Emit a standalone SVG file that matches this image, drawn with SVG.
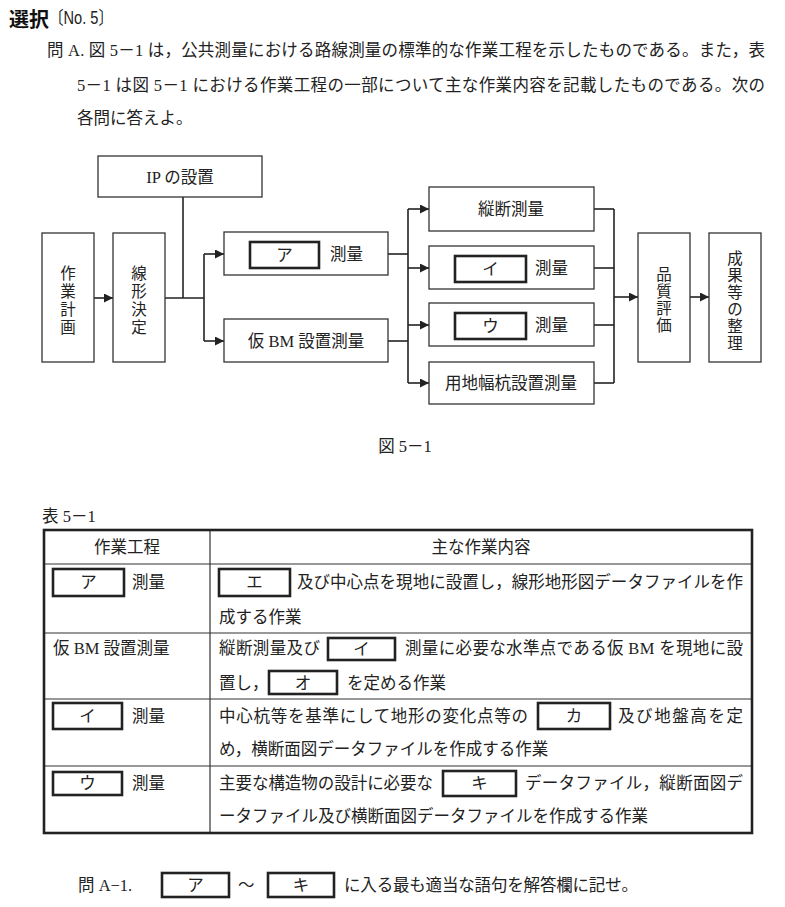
<svg xmlns="http://www.w3.org/2000/svg" width="785" height="907" viewBox="0 0 785 907">
<style>
text{font-family:"Liberation Serif","Noto Sans CJK JP",serif;fill:#222;font-size:16.5px;dominant-baseline:central}
.v{font-size:15.5px}
.b{fill:#fff;stroke:#333;stroke-width:1.3}
.ib{fill:#fff;stroke:#222;stroke-width:2.6}
.c{fill:none;stroke:#222;stroke-width:1.6}
.t{fill:none;stroke:#333;stroke-width:1.2}
.tb{fill:none;stroke:#222;stroke-width:2.6}
.m{text-anchor:middle}
</style>
<defs>
<marker id="ah" viewBox="0 0 10 10" refX="10" refY="5" markerWidth="10" markerHeight="9" markerUnits="userSpaceOnUse" orient="auto">
<path d="M0,0 L10,5 L0,10 z" fill="#222"/>
</marker>
</defs>
<rect width="785" height="907" fill="#fff"/>

<g id="heading">
<text x="9" y="18" style="font-family:'Noto Sans CJK JP',sans-serif;font-weight:bold;font-size:20px;fill:#111">選択</text>
<text x="49" y="18" style="font-family:'Liberation Sans','Noto Sans CJK JP',sans-serif;font-size:18px" textLength="64" lengthAdjust="spacingAndGlyphs">〔No. 5〕</text>
<text x="47" y="50" textLength="718" lengthAdjust="spacing">問 A. 図 5－1 は，公共測量における路線測量の標準的な作業工程を示したものである。また，表</text>
<text x="77" y="85" textLength="688" lengthAdjust="spacing">5－1 は図 5－1 における作業工程の一部について主な作業内容を記載したものである。次の</text>
<text x="77" y="118">各問に答えよ。</text>
</g>

<g id="connectors">
<line class="c" x1="94" y1="298" x2="113" y2="298" marker-end="url(#ah)"/>
<polyline class="c" points="165,298 204,298"/>
<line class="c" x1="183" y1="197" x2="183" y2="298"/>
<line class="c" x1="204" y1="254" x2="204" y2="341"/>
<line class="c" x1="204" y1="254" x2="224" y2="254" marker-end="url(#ah)"/>
<line class="c" x1="204" y1="341" x2="224" y2="341" marker-end="url(#ah)"/>
<line class="c" x1="388" y1="254" x2="408" y2="254"/>
<line class="c" x1="388" y1="341" x2="408" y2="341"/>
<line class="c" x1="408" y1="209" x2="408" y2="383"/>
<line class="c" x1="408" y1="209" x2="429" y2="209" marker-end="url(#ah)"/>
<line class="c" x1="408" y1="268" x2="429" y2="268" marker-end="url(#ah)"/>
<line class="c" x1="408" y1="325" x2="429" y2="325" marker-end="url(#ah)"/>
<line class="c" x1="408" y1="383" x2="429" y2="383" marker-end="url(#ah)"/>
<line class="c" x1="594" y1="209" x2="614" y2="209"/>
<line class="c" x1="594" y1="268" x2="614" y2="268"/>
<line class="c" x1="594" y1="325" x2="614" y2="325"/>
<line class="c" x1="594" y1="383" x2="614" y2="383"/>
<line class="c" x1="614" y1="209" x2="614" y2="383"/>
<line class="c" x1="614" y1="297" x2="638" y2="297" marker-end="url(#ah)"/>
<line class="c" x1="690" y1="297" x2="709" y2="297" marker-end="url(#ah)"/>
</g>

<g id="n-ip">
<rect class="b" x="98" y="156" width="164" height="41"/>
<text class="m" x="180" y="177">IP の設置</text>
</g>
<g id="n-keikaku">
<rect class="b" x="42" y="233" width="52" height="129"/>
<text class="m v" x="68" y="273">作<tspan x="68" dy="18">業</tspan><tspan x="68" dy="18">計</tspan><tspan x="68" dy="18">画</tspan></text>
</g>
<g id="n-senkei">
<rect class="b" x="113" y="233" width="52" height="129"/>
<text class="m v" x="139" y="273">線<tspan x="139" dy="18">形</tspan><tspan x="139" dy="18">決</tspan><tspan x="139" dy="18">定</tspan></text>
</g>
<g id="n-a">
<rect class="b" x="224" y="232" width="164" height="43"/>
<rect class="ib" x="250" y="242" width="69" height="26"/>
<text class="m" x="284.5" y="255">ア</text>
<text x="330" y="254">測量</text>
</g>
<g id="n-kari">
<rect class="b" x="224" y="319" width="164" height="43"/>
<text class="m" x="306" y="341">仮 BM 設置測量</text>
</g>
<g id="n-judan">
<rect class="b" x="429" y="187" width="165" height="44"/>
<text class="m" x="511" y="209">縦断測量</text>
</g>
<g id="n-i">
<rect class="b" x="429" y="246" width="165" height="43"/>
<rect class="ib" x="455" y="256" width="71" height="26"/>
<text class="m" x="490.5" y="269">イ</text>
<text x="535" y="268">測量</text>
</g>
<g id="n-u">
<rect class="b" x="429" y="303" width="165" height="43"/>
<rect class="ib" x="455" y="313" width="71" height="26"/>
<text class="m" x="490.5" y="326">ウ</text>
<text x="535" y="325">測量</text>
</g>
<g id="n-yochi">
<rect class="b" x="429" y="362" width="165" height="42"/>
<text class="m" x="511" y="383">用地幅杭設置測量</text>
</g>
<g id="n-hinshitsu">
<rect class="b" x="638" y="233" width="52" height="129"/>
<text class="m v" x="664" y="274">品<tspan x="664" dy="17">質</tspan><tspan x="664" dy="17">評</tspan><tspan x="664" dy="17">価</tspan></text>
</g>
<g id="n-seika">
<rect class="b" x="709" y="233" width="52" height="129"/>
<text class="m v" x="735" y="258">成<tspan x="735" dy="17">果</tspan><tspan x="735" dy="17">等</tspan><tspan x="735" dy="17">の</tspan><tspan x="735" dy="17">整</tspan><tspan x="735" dy="17">理</tspan></text>
</g>

<text class="m" x="405" y="446">図 5－1</text>

<g id="table">
<text x="42" y="516">表 5－1</text>
<line class="t" x1="44" y1="564" x2="752" y2="564"/>
<line class="t" x1="44" y1="633" x2="752" y2="633"/>
<line class="t" x1="44" y1="699" x2="752" y2="699"/>
<line class="t" x1="44" y1="766" x2="752" y2="766"/>
<line class="t" x1="210" y1="530" x2="210" y2="833"/>
<rect class="tb" x="44" y="530" width="708" height="303"/>

<text class="m" x="127" y="547">作業工程</text>
<text class="m" x="481" y="547">主な作業内容</text>

<rect class="ib" x="53" y="569" width="71" height="27"/>
<text class="m" x="88.5" y="582">ア</text>
<text x="132" y="582">測量</text>
<rect class="ib" x="219" y="569" width="71" height="27"/>
<text class="m" x="254.5" y="582">エ</text>
<text x="297" y="582" textLength="446" lengthAdjust="spacing">及び中心点を現地に設置し，線形地形図データファイルを作</text>
<text x="219" y="617">成する作業</text>

<text x="53" y="648">仮 BM 設置測量</text>
<text x="219" y="648" textLength="101" lengthAdjust="spacing">縦断測量及び</text>
<rect class="ib" x="328" y="638" width="67" height="22"/>
<text class="m" x="361.5" y="649">イ</text>
<text x="405" y="648" textLength="338" lengthAdjust="spacing">測量に必要な水準点である仮 BM を現地に設</text>
<text x="219" y="683">置し，</text>
<rect class="ib" x="269" y="671" width="68" height="23"/>
<text class="m" x="303" y="683">オ</text>
<text x="347" y="683">を定める作業</text>

<rect class="ib" x="53" y="703" width="69" height="26"/>
<text class="m" x="87.5" y="716">イ</text>
<text x="132" y="716">測量</text>
<text x="219" y="716" textLength="309" lengthAdjust="spacing">中心杭等を基準にして地形の変化点等の</text>
<rect class="ib" x="538" y="703" width="72" height="26"/>
<text class="m" x="574" y="716">カ</text>
<text x="618" y="716" textLength="125" lengthAdjust="spacing">及び地盤高を定</text>
<text x="219" y="749">め，横断面図データファイルを作成する作業</text>

<rect class="ib" x="53" y="772" width="69" height="23"/>
<text class="m" x="87.5" y="783">ウ</text>
<text x="132" y="783">測量</text>
<text x="219" y="783" textLength="214" lengthAdjust="spacing">主要な構造物の設計に必要な</text>
<rect class="ib" x="443" y="771" width="73" height="25"/>
<text class="m" x="479.5" y="783">キ</text>
<text x="525" y="783" textLength="218" lengthAdjust="spacing">データファイル，縦断面図デ</text>
<text x="219" y="816">ータファイル及び横断面図データファイルを作成する作業</text>
</g>

<g id="question">
<text x="78" y="885">問 A−1.</text>
<rect class="ib" x="162" y="873" width="67" height="24"/>
<text class="m" x="195.5" y="885">ア</text>
<text x="238" y="885">～</text>
<rect class="ib" x="268" y="873" width="66" height="24"/>
<text class="m" x="301" y="885">キ</text>
<text x="344" y="885" textLength="294" lengthAdjust="spacing">に入る最も適当な語句を解答欄に記せ。</text>
</g>
</svg>
